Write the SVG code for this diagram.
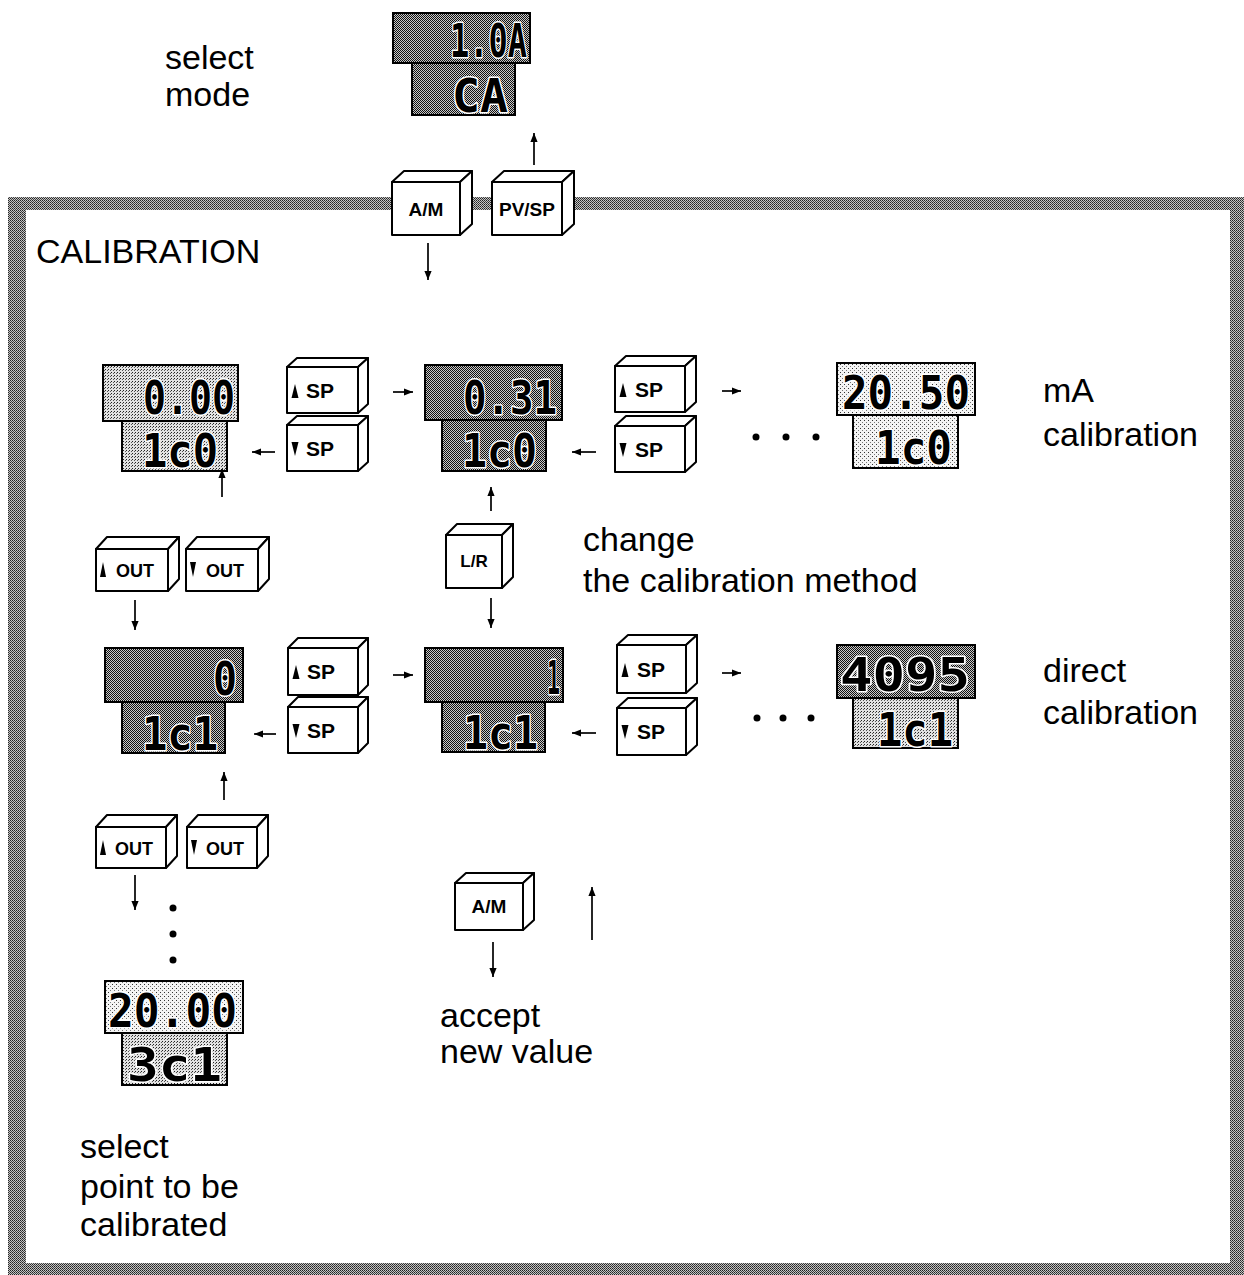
<svg xmlns="http://www.w3.org/2000/svg" width="1244" height="1275" viewBox="0 0 1244 1275">
<defs>
<pattern id="dk" width="2" height="2" patternUnits="userSpaceOnUse"><rect width="2" height="2" fill="#c8c8c8"/><rect width="1" height="1" fill="#111"/><rect x="1" y="1" width="1" height="1" fill="#111"/></pattern>
<pattern id="md" width="3" height="3" patternUnits="userSpaceOnUse"><rect width="3" height="3" fill="#e2e2e2"/><rect width="1" height="1" fill="#222"/><rect x="2" y="1" width="1" height="1" fill="#555"/></pattern>
<pattern id="lt" width="4" height="4" patternUnits="userSpaceOnUse"><rect width="4" height="4" fill="#f4f4f4"/><rect width="1" height="1" fill="#333"/><rect x="2" y="2" width="1" height="1" fill="#777"/></pattern>
<pattern id="fr" width="2" height="2" patternUnits="userSpaceOnUse"><rect width="2" height="2" fill="#c4c4c4"/><rect width="1" height="1" fill="#222"/><rect x="1" y="1" width="1" height="1" fill="#444"/></pattern>
<marker id="ah" viewBox="0 0 10 10" refX="10" refY="5" markerWidth="9" markerHeight="9" markerUnits="userSpaceOnUse" orient="auto"><path d="M0,1 L10,5 L0,9 z" fill="#000"/></marker>
</defs>
<style>
.key rect,.key path{fill:#fff;stroke:#000;stroke-width:2;stroke-linejoin:round}
.kl{font-family:"Liberation Sans",Arial,sans-serif;font-weight:bold;fill:#000}
.tri{fill:#000}
.lbl{font-family:"Liberation Sans",Arial,sans-serif;font-size:34px;fill:#000}
.seg{font-family:"DejaVu Sans Mono",monospace;font-weight:bold;font-size:46px;fill:#000;stroke:#fff;stroke-width:3;paint-order:stroke;stroke-linejoin:round}
.pan{stroke:#000;stroke-width:2}
.dk{fill:url(#dk)}.md{fill:url(#md)}.lt{fill:url(#lt)}
#connectors line{stroke:#000;stroke-width:1.7;marker-end:url(#ah)}
.dot{fill:#000}
</style>

<g id="frame">
<rect x="8" y="197" width="1236" height="1078" fill="url(#fr)"/>
<rect x="26" y="210" width="1204" height="1053" fill="#fff"/>
</g>

<g id="labels">
<text class="lbl" x="165" y="69">select</text>
<text class="lbl" x="165" y="106">mode</text>
<text class="lbl" x="36" y="263">CALIBRATION</text>
<text class="lbl" x="1043" y="402">mA</text>
<text class="lbl" x="1043" y="446">calibration</text>
<text class="lbl" x="583" y="551">change</text>
<text class="lbl" x="583" y="592">the calibration method</text>
<text class="lbl" x="1043" y="682">direct</text>
<text class="lbl" x="1043" y="724">calibration</text>
<text class="lbl" x="440" y="1027">accept</text>
<text class="lbl" x="440" y="1063">new value</text>
<text class="lbl" x="80" y="1158">select</text>
<text class="lbl" x="80" y="1198">point to be</text>
<text class="lbl" x="80" y="1236">calibrated</text>
</g>

<g id="disp-mode">
<rect class="pan dk" x="393" y="13" width="137" height="50"/>
<rect class="pan dk" x="412" y="63" width="103" height="52"/>
<text class="seg" x="450" y="57" textLength="77" lengthAdjust="spacingAndGlyphs">1.0A</text>
<text class="seg" x="452" y="112" textLength="56" lengthAdjust="spacingAndGlyphs">CA</text>
</g>

<g id="disp-000">
<rect class="pan md" x="103" y="365" width="135" height="56"/>
<rect class="pan md" x="122" y="421" width="105" height="50"/>
<text class="seg" x="143" y="414" textLength="92" lengthAdjust="spacingAndGlyphs">0.00</text>
<text class="seg" x="142" y="467" textLength="76" lengthAdjust="spacingAndGlyphs">1c0</text>
</g>

<g id="disp-031">
<rect class="pan dk" x="425" y="365" width="137" height="55"/>
<rect class="pan dk" x="442" y="420" width="104" height="51"/>
<text class="seg" x="463" y="414" textLength="94" lengthAdjust="spacingAndGlyphs">0.31</text>
<text class="seg" x="462" y="467" textLength="75" lengthAdjust="spacingAndGlyphs">1c0</text>
</g>

<g id="disp-2050">
<rect class="pan lt" x="837" y="363" width="138" height="52"/>
<rect class="pan lt" x="853" y="415" width="105" height="53"/>
<text class="seg" x="842" y="409" textLength="128" lengthAdjust="spacingAndGlyphs">20.50</text>
<text class="seg" x="875" y="464" textLength="77" lengthAdjust="spacingAndGlyphs">1c0</text>
</g>

<g id="disp-0">
<rect class="pan dk" x="105" y="648" width="138" height="54"/>
<rect class="pan dk" x="122" y="702" width="103" height="51"/>
<text class="seg" x="213" y="695" textLength="24" lengthAdjust="spacingAndGlyphs">0</text>
<text class="seg" x="142" y="750" textLength="76" lengthAdjust="spacingAndGlyphs">1c1</text>
</g>

<g id="disp-1">
<rect class="pan dk" x="425" y="648" width="138" height="54"/>
<rect class="pan dk" x="442" y="702" width="103" height="50"/>
<text class="seg" x="547" y="694" textLength="13" lengthAdjust="spacingAndGlyphs">1</text>
<text class="seg" x="463" y="749" textLength="75" lengthAdjust="spacingAndGlyphs">1c1</text>
</g>

<g id="disp-4095">
<rect class="pan dk" x="837" y="645" width="138" height="53"/>
<rect class="pan md" x="853" y="698" width="105" height="50"/>
<text class="seg" x="840" y="691" textLength="130" lengthAdjust="spacingAndGlyphs">4095</text>
<text class="seg" x="877" y="746" textLength="76" lengthAdjust="spacingAndGlyphs">1c1</text>
</g>

<g id="disp-2000">
<rect class="pan lt" x="105" y="981" width="138" height="52"/>
<rect class="pan md" x="122" y="1033" width="105" height="52"/>
<text class="seg" x="108" y="1027" textLength="129" lengthAdjust="spacingAndGlyphs">20.00</text>
<text class="seg" x="127" y="1081" textLength="95" lengthAdjust="spacingAndGlyphs">3c1</text>
</g>

<g id="key-am-top" class="key">
<rect x="392" y="182" width="68" height="53"/>
<path d="M392,182 L404,171 L472,171 L460,182 Z"/>
<path d="M460,182 L472,171 L472,224 L460,235 Z"/>
<text class="kl" x="426" y="216" font-size="19" text-anchor="middle">A/M</text>
</g>

<g id="key-pvsp" class="key">
<rect x="492" y="182" width="70" height="53"/>
<path d="M492,182 L504,171 L574,171 L562,182 Z"/>
<path d="M562,182 L574,171 L574,224 L562,235 Z"/>
<text class="kl" x="527" y="216" font-size="19" text-anchor="middle">PV/SP</text>
</g>

<g id="key-upsp-1l" class="key">
<rect x="287" y="367" width="71" height="46"/>
<path d="M287,367 L297,358 L368,358 L358,367 Z"/>
<path d="M358,367 L368,358 L368,404 L358,413 Z"/>
<polygon class="tri" points="291.5,398 298.5,398 295,384"/>
<text class="kl" x="306" y="398" font-size="21">SP</text>
</g>

<g id="key-dnsp-1l" class="key">
<rect x="287" y="425" width="71" height="46"/>
<path d="M287,425 L297,416 L368,416 L358,425 Z"/>
<path d="M358,425 L368,416 L368,462 L358,471 Z"/>
<polygon class="tri" points="291.5,442 298.5,442 295,456"/>
<text class="kl" x="306" y="456" font-size="21">SP</text>
</g>

<g id="key-upsp-1m" class="key">
<rect x="615" y="366" width="70" height="46"/>
<path d="M615,366 L626,356 L696,356 L685,366 Z"/>
<path d="M685,366 L696,356 L696,402 L685,412 Z"/>
<polygon class="tri" points="619.5,397 626.5,397 623,383"/>
<text class="kl" x="635" y="397" font-size="21">SP</text>
</g>

<g id="key-dnsp-1m" class="key">
<rect x="615" y="426" width="70" height="46"/>
<path d="M615,426 L626,416 L696,416 L685,426 Z"/>
<path d="M685,426 L696,416 L696,462 L685,472 Z"/>
<polygon class="tri" points="619.5,443 626.5,443 623,457"/>
<text class="kl" x="635" y="457" font-size="21">SP</text>
</g>

<g id="key-upout-1" class="key">
<rect x="96" y="549" width="72" height="42"/>
<path d="M96,549 L107,537 L179,537 L168,549 Z"/>
<path d="M168,549 L179,537 L179,579 L168,591 Z"/>
<polygon class="tri" points="100,577 106,577 103,562"/>
<text class="kl" x="116" y="577" font-size="18">OUT</text>
</g>

<g id="key-dnout-1" class="key">
<rect x="186" y="549" width="72" height="42"/>
<path d="M186,549 L197,537 L269,537 L258,549 Z"/>
<path d="M258,549 L269,537 L269,579 L258,591 Z"/>
<polygon class="tri" points="190,562 196,562 193,577"/>
<text class="kl" x="206" y="577" font-size="18">OUT</text>
</g>

<g id="key-lr" class="key">
<rect x="446" y="535" width="56" height="53"/>
<path d="M446,535 L457,524 L513,524 L502,535 Z"/>
<path d="M502,535 L513,524 L513,577 L502,588 Z"/>
<text class="kl" x="474" y="567" font-size="17" text-anchor="middle">L/R</text>
</g>

<g id="key-upsp-2l" class="key">
<rect x="288" y="648" width="70" height="47"/>
<path d="M288,648 L298,638 L368,638 L358,648 Z"/>
<path d="M358,648 L368,638 L368,685 L358,695 Z"/>
<polygon class="tri" points="292.5,679 299.5,679 296,665"/>
<text class="kl" x="307" y="679" font-size="21">SP</text>
</g>

<g id="key-dnsp-2l" class="key">
<rect x="288" y="707" width="70" height="46"/>
<path d="M288,707 L298,697 L368,697 L358,707 Z"/>
<path d="M358,707 L368,697 L368,743 L358,753 Z"/>
<polygon class="tri" points="292.5,724 299.5,724 296,738"/>
<text class="kl" x="307" y="738" font-size="21">SP</text>
</g>

<g id="key-upsp-2m" class="key">
<rect x="617" y="645" width="69" height="48"/>
<path d="M617,645 L628,635 L697,635 L686,645 Z"/>
<path d="M686,645 L697,635 L697,683 L686,693 Z"/>
<polygon class="tri" points="621.5,677 628.5,677 625,663"/>
<text class="kl" x="637" y="677" font-size="21">SP</text>
</g>

<g id="key-dnsp-2m" class="key">
<rect x="617" y="708" width="69" height="47"/>
<path d="M617,708 L628,698 L697,698 L686,708 Z"/>
<path d="M686,708 L697,698 L697,745 L686,755 Z"/>
<polygon class="tri" points="621.5,725 628.5,725 625,739"/>
<text class="kl" x="637" y="739" font-size="21">SP</text>
</g>

<g id="key-upout-2" class="key">
<rect x="96" y="827" width="70" height="41"/>
<path d="M96,827 L107,815 L177,815 L166,827 Z"/>
<path d="M166,827 L177,815 L177,856 L166,868 Z"/>
<polygon class="tri" points="100,855 106,855 103,840"/>
<text class="kl" x="115" y="855" font-size="18">OUT</text>
</g>

<g id="key-dnout-2" class="key">
<rect x="187" y="827" width="70" height="41"/>
<path d="M187,827 L198,815 L268,815 L257,827 Z"/>
<path d="M257,827 L268,815 L268,856 L257,868 Z"/>
<polygon class="tri" points="191,840 197,840 194,855"/>
<text class="kl" x="206" y="855" font-size="18">OUT</text>
</g>

<g id="key-am-bottom" class="key">
<rect x="455" y="883" width="68" height="47"/>
<path d="M455,883 L466,873 L534,873 L523,883 Z"/>
<path d="M523,883 L534,873 L534,920 L523,930 Z"/>
<text class="kl" x="489" y="913" font-size="19" text-anchor="middle">A/M</text>
</g>

<g id="connectors">
<line x1="534" y1="165" x2="534" y2="133"/>
<line x1="428" y1="243" x2="428" y2="280"/>
<line x1="393" y1="392" x2="413" y2="392"/>
<line x1="275" y1="452" x2="252" y2="452"/>
<line x1="722" y1="391" x2="741" y2="391"/>
<line x1="596" y1="452" x2="572" y2="452"/>
<line x1="222" y1="497" x2="222" y2="469"/>
<line x1="135" y1="600" x2="135" y2="630"/>
<line x1="491" y1="511" x2="491" y2="487"/>
<line x1="491" y1="598" x2="491" y2="628"/>
<line x1="393" y1="675" x2="413" y2="675"/>
<line x1="276" y1="734" x2="254" y2="734"/>
<line x1="722" y1="673" x2="741" y2="673"/>
<line x1="596" y1="733" x2="572" y2="733"/>
<line x1="224" y1="800" x2="224" y2="772"/>
<line x1="135" y1="875" x2="135" y2="910"/>
<line x1="493" y1="942" x2="493" y2="977"/>
<line x1="592" y1="940" x2="592" y2="887"/>
<circle class="dot" cx="756" cy="437" r="3.5"/>
<circle class="dot" cx="786" cy="437" r="3.5"/>
<circle class="dot" cx="816" cy="437" r="3.5"/>
<circle class="dot" cx="757" cy="718" r="3.5"/>
<circle class="dot" cx="783" cy="718" r="3.5"/>
<circle class="dot" cx="811" cy="718" r="3.5"/>
<circle class="dot" cx="173" cy="908" r="3.5"/>
<circle class="dot" cx="173" cy="934" r="3.5"/>
<circle class="dot" cx="173" cy="960" r="3.5"/>
</g>
</svg>
